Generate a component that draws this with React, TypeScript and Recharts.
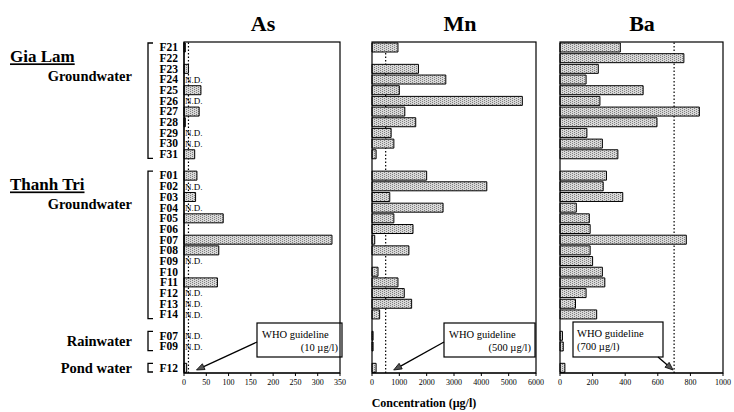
import React from "react";
import { BarChart, Bar, XAxis, YAxis, ReferenceLine } from "recharts";

const SERIF = "'Liberation Serif', 'Times New Roman', serif";

// wells per sampling group
const glWells = ["F21", "F22", "F23", "F24", "F25", "F26", "F27", "F28", "F29", "F30", "F31"];
const ttWells = ["F01", "F02", "F03", "F04", "F05", "F06", "F07", "F08", "F09", "F10", "F11", "F12", "F13", "F14"];
const rainWells = ["F07", "F09"];
const pondWells = ["F12"];

// As (µg/l), null = N.D.
const asGL = [3, 0, 10, null, 38, null, 34, 3, null, null, 24];
const asTT = [29, null, 26, null, 88, 0, 332, 78, null, 0, 75, null, null, null];
const asRain = [null, null];
const asPond = [6];

// Mn (µg/l)
const mnGL = [950, 0, 1700, 2700, 1000, 5500, 1200, 1600, 700, 800, 150];
const mnTT = [2000, 4200, 650, 2600, 800, 1500, 100, 1350, 0, 220, 950, 1180, 1450, 280];
const mnRain = [40, 40];
const mnPond = [150];

// Ba (µg/l)
const baGL = [370, 760, 235, 160, 510, 245, 855, 595, 165, 260, 355];
const baTT = [285, 265, 385, 100, 180, 185, 775, 185, 200, 260, 275, 160, 95, 225];
const baRain = [15, 20];
const baPond = [30];

const asTicks = [0, 50, 100, 150, 200, 250, 300, 350];
const mnTicks = [0, 1000, 2000, 3000, 4000, 5000, 6000];
const baTicks = [0, 200, 400, 600, 800, 1000];

// WHO guideline values
const asGuide = 10;
const mnGuide = 500;
const baGuide = 700;

const groups = [
  { id: "gl", name: "Gia Lam", source: "Groundwater", wells: glWells, as: asGL, mn: mnGL, ba: baGL },
  { id: "tt", name: "Thanh Tri", source: "Groundwater", wells: ttWells, as: asTT, mn: mnTT, ba: baTT },
  { id: "rain", name: "", source: "Rainwater", wells: rainWells, as: asRain, mn: mnRain, ba: baRain },
  { id: "pond", name: "", source: "Pond water", wells: pondWells, as: asPond, mn: mnPond, ba: baPond },
];

type Row = {
  key: string
  well: string
  gap: boolean
  group: number
  index: number
  as: number | null
  mn: number | null
  ba: number | null
}

const rows: Row[] = [];
groups.forEach((g, gi) => {
  if (gi > 0) rows.push({ key: `gap-${gi}`, well: "", gap: true, group: gi, index: -1, as: null, mn: null, ba: null });
  g.wells.forEach((w, i) => {
    rows.push({ key: `${g.id}-${w}`, well: w, gap: false, group: gi, index: i, as: g.as[i], mn: g.mn[i], ba: g.ba[i] });
  });
});
const rowByKey: Record<string, Row> = {};
rows.forEach((r) => (rowByKey[r.key] = r));

const H = 412;
const PLOT_TOP = 42;
const PLOT_BOTTOM = 373;
const BAND = (PLOT_BOTTOM - PLOT_TOP) / rows.length;

function WellTick(props: any) {
  const { y, payload } = props;
  const row = rowByKey[payload.value];
  if (!row || row.gap) return null;
  const g = groups[row.group];
  const n = g.wells.length;
  let groupBits = null;
  if (row.index === 0) {
    const top = y - BAND / 2 + 1;
    const bottom = y + (n - 1) * BAND + BAND / 2 - 1;
    const srcY = g.name ? y + 34 : y + ((n - 1) * BAND) / 2 + 5;
    groupBits = (
      <g>
        <path d={`M153,${top} L148,${top} L148,${bottom} L153,${bottom}`} fill="none" stroke="#000" strokeWidth={1.3} />
        {g.name && (
          <text x={10} y={y + 15} fontFamily={SERIF} fontSize={17} fontWeight="bold" textDecoration="underline" fill="#000">
            {g.name}
          </text>
        )}
        <text x={132} y={srcY} textAnchor="end" fontFamily={SERIF} fontSize={14.5} fontWeight="bold" fill="#000">
          {g.source}
        </text>
      </g>
    );
  }
  return (
    <g>
      <text x={178} y={y + 4} textAnchor="end" fontFamily={SERIF} fontSize={11.5} fontWeight="bold" fill="#000">
        {row.well}
      </text>
      {row.as === null && (
        <text x={185} y={y + 3.5} fontFamily={SERIF} fontSize={9} fill="#000" stroke="none">
          N.D.
        </text>
      )}
      {groupBits}
    </g>
  );
}

function WhoLabel(props: any) {
  const { viewBox, box, lines, align, from, tipDx, offsetX } = props;
  if (!viewBox) return null;
  const tipX = viewBox.x + tipDx;
  const tipY = viewBox.y + viewBox.height - 3;
  const bx = box[0] - offsetX;
  const fx = from[0] - offsetX;
  const fy = from[1];
  const ang = Math.atan2(tipY - fy, tipX - fx);
  const len = 8;
  const hw = 3.2;
  const baseX = tipX - len * Math.cos(ang);
  const baseY = tipY - len * Math.sin(ang);
  const px = -Math.sin(ang) * hw;
  const py = Math.cos(ang) * hw;
  const tx = align === "end" ? bx + box[2] - 4 : bx + 4;
  return (
    <g>
      <rect x={bx} y={box[1]} width={box[2]} height={box[3]} fill="#fff" stroke="#000" strokeWidth={1.2} />
      <text x={align === "end" ? bx + 5 : tx} y={box[1] + 15} fontFamily={SERIF} fontSize={10.5} fill="#000">
        {lines[0]}
      </text>
      <text x={tx} y={box[1] + 28} textAnchor={align} fontFamily={SERIF} fontSize={10.5} fill="#000">
        {lines[1]}
      </text>
      <line x1={fx} y1={fy} x2={baseX} y2={baseY} stroke="#000" strokeWidth={1.3} />
      <polygon
        points={`${tipX},${tipY} ${baseX + px},${baseY + py} ${baseX - px},${baseY - py}`}
        fill="#555"
        stroke="#000"
        strokeWidth={0.8}
      />
    </g>
  );
}

const panels = [
  {
    title: "As", key: "as", left: 0, width: 360, plotLeft: 184, plotRight: 340, titleX: 263,
    ticks: asTicks, guide: asGuide, showY: true,
    who: { box: [257, 323, 85, 34], lines: ["WHO guideline", "(10 µg/l)"], align: "end", from: [257, 342], tipDx: 8 },
  },
  {
    title: "Mn", key: "mn", left: 360, width: 190, plotLeft: 372, plotRight: 536, titleX: 460,
    ticks: mnTicks, guide: mnGuide, showY: false,
    who: { box: [444, 323, 91, 34], lines: ["WHO guideline", "(500 µg/l)"], align: "end", from: [444, 342], tipDx: 8 },
  },
  {
    title: "Ba", key: "ba", left: 550, width: 184, plotLeft: 560, plotRight: 723, titleX: 642,
    ticks: baTicks, guide: baGuide, showY: false,
    who: { box: [573, 322, 90, 35], lines: ["WHO guideline", "(700 µg/l)"], align: "start", from: [658, 357], tipDx: -1 },
  },
];

const tickStyle = { fontFamily: SERIF, fontSize: 8, fill: "#000" };

export default function App() {
  return (
    <div style={{ position: "absolute", left: 0, top: 0, width: 734, height: H, background: "#fff" }}>
      <svg width={0} height={0} style={{ position: "absolute" }}>
        <defs>
          <pattern id="stipple" width={4} height={2} patternUnits="userSpaceOnUse">
            <rect width={4} height={2} fill="#d8d8d8" />
            <rect x={0} y={0} width={1} height={1} fill="#7e7e7e" />
            <rect x={2} y={1} width={1} height={1} fill="#7e7e7e" />
          </pattern>
        </defs>
      </svg>
      {panels.map((p) => {
        const yAxisW = p.showY ? p.plotLeft - p.left : 0;
        const marginLeft = p.showY ? 0 : p.plotLeft - p.left;
        return (
          <div key={p.key} style={{ position: "absolute", left: p.left, top: 0 }}>
            <BarChart
              width={p.width}
              height={H}
              data={rows}
              layout="vertical"
              margin={{ top: PLOT_TOP, right: p.left + p.width - p.plotRight, bottom: H - PLOT_BOTTOM - 20, left: marginLeft }}
            >
              <XAxis
                type="number"
                domain={[0, p.ticks[p.ticks.length - 1]]}
                ticks={p.ticks}
                interval={0}
                height={20}
                tick={tickStyle}
                tickSize={3}
                tickMargin={3}
                axisLine={{ stroke: "#000", strokeWidth: 1.2 }}
                tickLine={{ stroke: "#000" }}
              />
              <YAxis
                type="category"
                dataKey="key"
                hide={!p.showY}
                width={yAxisW}
                interval={0}
                tick={p.showY ? <WellTick /> : false}
                tickLine={false}
                axisLine={{ stroke: "#000", strokeWidth: 1.2 }}
              />
              {/* guideline kept under the bars */}
              <ReferenceLine
                x={p.guide}
                stroke="#000"
                strokeWidth={1.2}
                strokeDasharray="1.5 2"
                zIndex={-10}
                label={<WhoLabel {...p.who} offsetX={p.left} />}
              />
              <Bar
                dataKey={p.key}
                fill="url(#stipple)"
                stroke="#000"
                strokeWidth={1}
                barSize={9}
                isAnimationActive={false}
              />
            </BarChart>
          </div>
        );
      })}
      <svg width={734} height={H} style={{ position: "absolute", left: 0, top: 0, pointerEvents: "none" }}>
        {panels.map((p) => (
          <g key={p.key}>
            <rect
              x={p.plotLeft}
              y={PLOT_TOP}
              width={p.plotRight - p.plotLeft}
              height={PLOT_BOTTOM - PLOT_TOP}
              fill="none"
              stroke="#000"
              strokeWidth={1.2}
            />
            <text x={p.titleX} y={31} textAnchor="middle" fontFamily={SERIF} fontSize={22} fontWeight="bold" fill="#000">
              {p.title}
            </text>
          </g>
        ))}
        <text x={424} y={407} textAnchor="middle" fontFamily={SERIF} fontSize={12} fontWeight="bold" fill="#000">
          Concentration (µg/l)
        </text>
      </svg>
    </div>
  );
}
